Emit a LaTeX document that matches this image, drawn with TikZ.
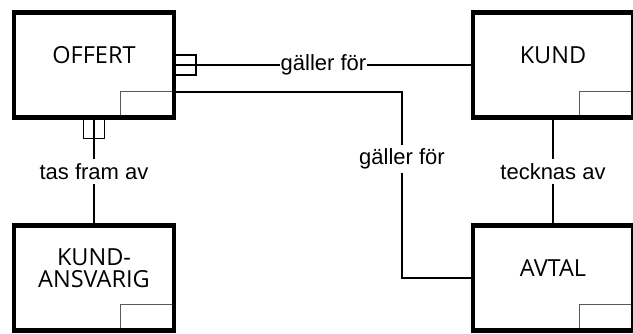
\documentclass[tikz,border=0pt]{standalone}
\usepackage{fontspec}
\setmainfont{Liberation Sans}
\newfontfamily\entfont{Open Sans}
\usetikzlibrary{positioning}

\begin{document}
\begin{tikzpicture}
[
x=1pt, y=-1pt,
% エンティティ
entity/.style={rectangle, draw, line width=4.6pt, minimum width=160pt,
minimum height=105pt, outer sep=0, inner sep=0},
% エンティティ名
title/.style={font=\entfont\fontsize{23.5}{22}\selectfont, align=center, inner sep=0},
% 識別子の欄
tag/.style={draw=black!65, line width=0.9pt},
% 関連
rel/.style={line width=1.4pt},
% 関連名
relname/.style={fill=white, font=\fontsize{22}{26}\selectfont, inner xsep=0.5pt, inner ysep=4pt}
]
\useasboundingbox (0,0) rectangle (633,334);
% エンティティの配置
\node [entity] (offert) at (94,65) {};
\node [entity, right=299pt of offert] (kund) {};
\node [entity, below=108pt of offert] (kansv) {};
\node [entity, below=108pt of kund] (avtal) {};
\node [title] at ([yshift=10pt]offert.center) (offertT) {OFFERT};
\node [title] at ([yshift=10pt]kund.center) (kundT) {KUND};
\node [title] at ([yshift=10pt]kansv.center) (kansvT) {KUND-\\ANSVARIG};
\node [title] at ([yshift=10pt]avtal.center) (avtalT) {AVTAL};

% 識別子の欄
\foreach \e in {offert, kund, kansv, avtal}
\draw [tag] ([xshift=-54pt, yshift=2.3pt]\e.south east) |- ([xshift=-2.3pt, yshift=26pt]\e.south east);

% 関連の接続
\draw [rel] (offert.east) -- (kund.west) node [relname, midway] {gäller för};
\draw [rel] ([yshift=10pt]offert.east) -| ([xshift=22pt, yshift=-10pt]offert.east)
-- ([yshift=-10pt]offert.east);
\draw [rel] (offert.south) -- (kansv.north) node [relname, midway] {tas fram av};
\draw [rel] ([xshift=-10.5pt]offert.south) |- ([xshift=10.5pt, yshift=-21pt]offert.south)
-- ([xshift=10.5pt]offert.south);
\coordinate [left=71pt of avtal.west] (bend);
\draw [rel] ([yshift=-27pt]offert.east) -| (bend) node [relname, pos=0.68] {gäller för}
-- (avtal.west);
\draw [rel] (kund) -- (avtal) node [relname, midway] {tecknas av};
\end{tikzpicture}
\end{document}
